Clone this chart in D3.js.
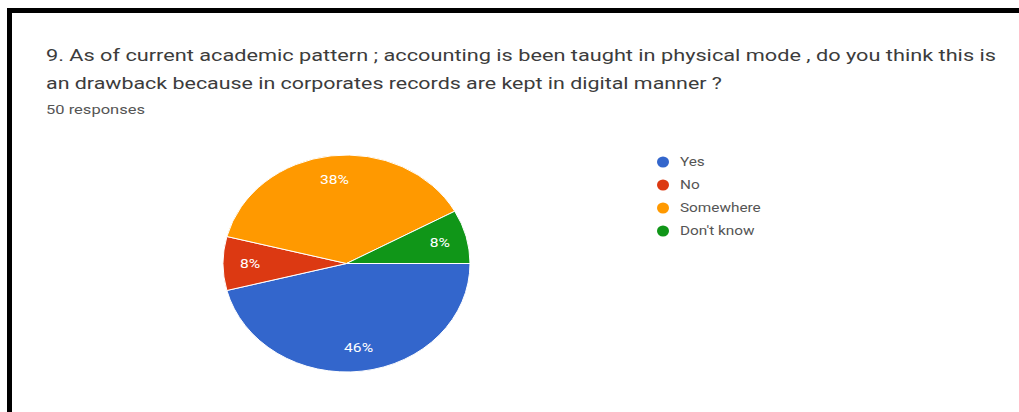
<!DOCTYPE html>
<html>
<head>
<meta charset="utf-8">
<script src="https://cdn.jsdelivr.net/npm/d3@7"></script>
<style>
  html, body { margin: 0; padding: 0; background: #fff; }
  svg { display: block; }
</style>
</head>
<body>
<svg id="chart" width="1019" height="412"></svg>
<script>
// Survey question and response counts
const titleLines = [
  "9. As of current academic pattern ; accounting is been taught in physical mode , do you think this is",
  "an drawback because in corporates records are kept in digital manner ?"
];
const responseNote = "50 responses";
const categories = ["Yes", "No", "Somewhere", "Don't know"];
const counts = [23, 4, 19, 4];
const colors = ["#3366cc", "#dc3912", "#ff9900", "#109618"];

const svg = d3.select("#chart");
const W = 1019, H = 412;
const font = "Roboto, 'Noto Sans', Arial, sans-serif";

svg.append("rect").attr("width", W).attr("height", H).attr("fill", "#fff");

// Frame (top and left edges)
svg.append("rect").attr("x", 7).attr("y", 8).attr("width", W - 7).attr("height", 5).attr("fill", "#000");
svg.append("rect").attr("x", 7).attr("y", 8).attr("width", 5).attr("height", H - 8).attr("fill", "#000");

// Title
const titleWidths = [950, 676];
titleLines.forEach((t, i) => {
  svg.append("text")
    .attr("x", 46).attr("y", 61 + i * 28)
    .attr("font-family", font).attr("font-size", 17)
    .attr("fill", "#3c3c3c")
    .attr("textLength", titleWidths[i]).attr("lengthAdjust", "spacingAndGlyphs")
    .text(t);
});
svg.append("text")
  .attr("x", 46).attr("y", 114)
  .attr("font-family", font).attr("font-size", 12)
  .attr("fill", "#555")
  .attr("textLength", 99).attr("lengthAdjust", "spacingAndGlyphs")
  .text(responseNote);

// Pie (drawn as a circle, stretched horizontally)
const cx = 346.5, cy = 263.5, r = 108.5, sx = 123.5 / 108.5;
const total = d3.sum(counts);
const data = categories.map((c, i) => ({ name: c, value: counts[i], color: colors[i] }));

const pie = d3.pie().sort(null).value(d => d.value)
  .startAngle(Math.PI / 2).endAngle(Math.PI / 2 + 2 * Math.PI);
const arcs = pie(data);
const arc = d3.arc().innerRadius(0).outerRadius(r);
const labelArc = d3.arc().innerRadius(r * 0.78).outerRadius(r * 0.78);

const pieG = svg.append("g").attr("transform", `translate(${cx},${cy}) scale(${sx},1)`);
pieG.selectAll("path").data(arcs).join("path")
  .attr("d", arc)
  .attr("fill", d => d.data.color)
  .attr("stroke", "#fff")
  .attr("stroke-width", 1)
  .attr("vector-effect", "non-scaling-stroke");

const fmt = d3.format(".0%");
svg.append("g").selectAll("text").data(arcs).join("text")
  .attr("transform", d => {
    const [x, y] = labelArc.centroid(d);
    return `translate(${cx + x * sx},${cy + y}) scale(1.2,1)`;
  })
  .attr("text-anchor", "middle")
  .attr("dy", "0.36em")
  .attr("font-family", font).attr("font-size", 13)
  .attr("fill", "#fff")
  .text(d => fmt(d.data.value / total));

// Legend
const legend = svg.append("g").attr("transform", "translate(663,162)");
const rows = legend.selectAll("g").data(data).join("g")
  .attr("transform", (d, i) => `translate(0,${i * 23})`);
rows.append("ellipse").attr("rx", 6).attr("ry", 5.5).attr("fill", d => d.color);
rows.append("text")
  .attr("transform", "translate(17,0) scale(1.28,1)")
  .attr("dy", "0.36em")
  .attr("font-family", font).attr("font-size", 12)
  .attr("fill", "#555")
  .text(d => d.name);
</script>
</body>
</html>
